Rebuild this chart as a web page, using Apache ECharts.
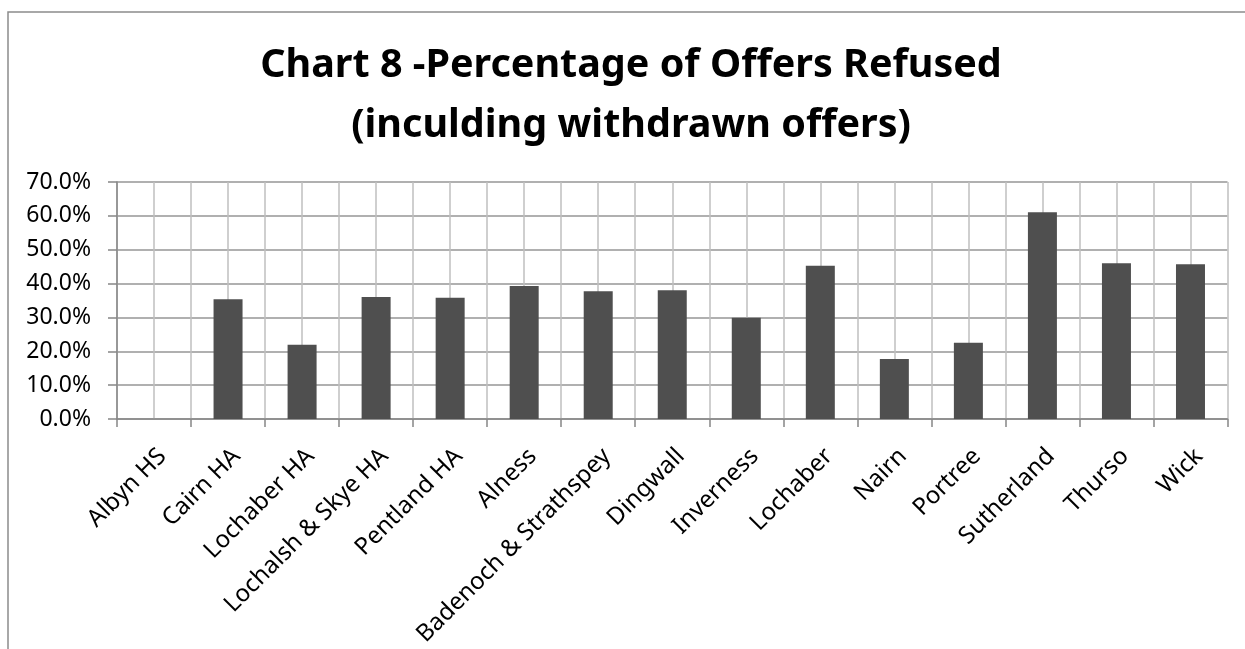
<!DOCTYPE html>
<html>
<head>
<meta charset="utf-8">
<script src="https://cdn.jsdelivr.net/npm/echarts@6/dist/echarts.min.js"></script>
<style>
  html, body { margin: 0; padding: 0; background: #fff; }
  #chart { width: 1245px; height: 649px; }
</style>
</head>
<body>
<div id="chart"></div>
<script>
const categories = [
  'Albyn HS', 'Cairn HA', 'Lochaber HA', 'Lochalsh & Skye HA', 'Pentland HA',
  'Alness', 'Badenoch & Strathspey', 'Dingwall', 'Inverness', 'Lochaber',
  'Nairn', 'Portree', 'Sutherland', 'Thurso', 'Wick'
]
const refusedPct = [
  0, 35.4, 21.9, 36.0, 35.8,
  39.3, 37.7, 38.0, 29.9, 45.3,
  17.7, 22.5, 61.1, 46.0, 45.7
]
const titleLines = ['Chart 8 -Percentage of Offers Refused', '(inculding withdrawn offers)']

const font = '"Noto Sans", "Open Sans", sans-serif'
const chart = echarts.init(document.getElementById('chart'), null, { renderer: 'canvas' })

chart.setOption({
  animation: false,
  backgroundColor: '#fff',
  graphic: [
    {
      type: 'rect',
      shape: { x: 8, y: 12, width: 1300, height: 700 },
      style: { fill: 'none', stroke: '#8c8c8c', lineWidth: 1.5 },
      silent: true
    },
    {
      type: 'text',
      x: 631, y: 36,
      style: {
        text: titleLines.join('\n'),
        fill: '#000',
        font: 'bold 39.5px ' + font,
        textAlign: 'center',
        lineHeight: 60
      }
    }
  ],
  grid: { left: 117, top: 182, right: 17.5, bottom: 229.7, containLabel: false },
  xAxis: [
    {
      type: 'category',
      data: categories,
      axisLine: { lineStyle: { color: '#868686', width: 1.5 } },
      axisTick: { show: true, length: 8, lineStyle: { color: '#868686', width: 1.5 } },
      axisLabel: {
        interval: 0, rotate: 45, margin: 25,
        align: 'right', verticalAlign: 'top',
        color: '#000', fontSize: 24, fontFamily: font
      },
      splitLine: { show: false }
    },
    {
      // half-category vertical grid lines
      type: 'value', min: 0, max: 30, interval: 1,
      position: 'top', show: true,
      axisLine: { show: false }, axisTick: { show: false }, axisLabel: { show: false },
      splitLine: { show: true, lineStyle: { color: '#bfbfbf', width: 1.5 } }
    }
  ],
  yAxis: {
    type: 'value',
    min: 0, max: 70, interval: 10,
    axisLine: { show: true, lineStyle: { color: '#868686', width: 1.5 } },
    axisTick: { show: true, length: 9, lineStyle: { color: '#868686', width: 1.5 } },
    axisLabel: {
      margin: 26,
      color: '#000', fontSize: 23, fontFamily: font,
      formatter: v => v.toFixed(1) + '%'
    },
    splitLine: { show: true, lineStyle: { color: '#969696', width: 1.5 } }
  },
  series: [
    {
      type: 'bar',
      xAxisIndex: 0,
      data: refusedPct,
      barWidth: 29,
      itemStyle: { color: '#4f4f4f' },
      z: 5
    }
  ]
})
</script>
</body>
</html>
